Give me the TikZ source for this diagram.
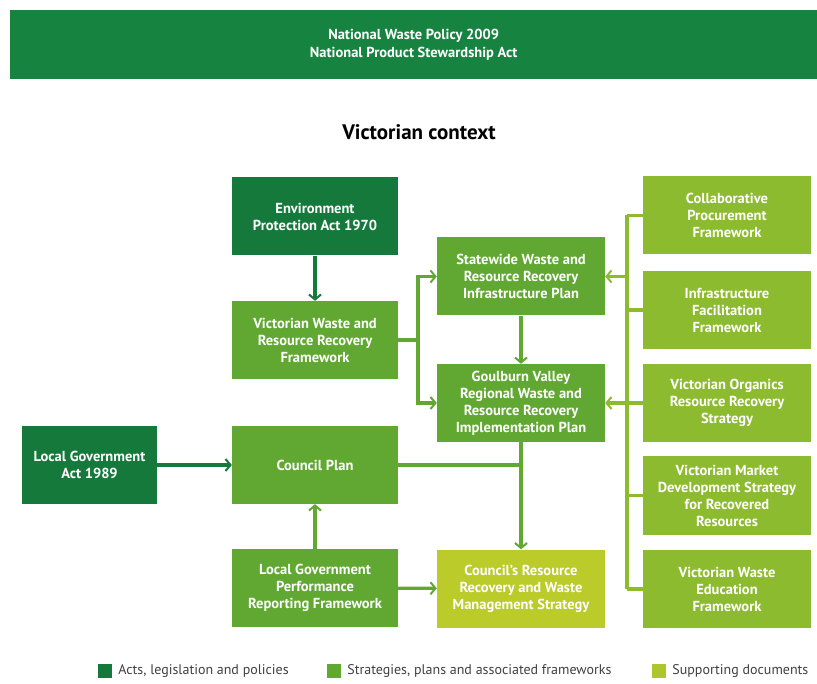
\documentclass[tikz,border=0pt]{standalone}
\usepackage{fontspec}
\setmainfont{PT Sans}
\usetikzlibrary{arrows.meta,positioning}
\definecolor{bannergrn}{RGB}{22,131,64}
\definecolor{darkgrn}{RGB}{22,121,60}
\definecolor{midgrn}{RGB}{96,168,50}
\definecolor{litgrn}{RGB}{141,187,47}
\definecolor{yelgrn}{RGB}{186,203,42}
\tikzset{
    box/.style={text=white, align=center, inner sep=2pt,
        font=\bfseries\fontsize{14.5}{17}\selectfont,
        minimum width=166pt, minimum height=78pt},
    acts/.style={box, fill=darkgrn},
    plan/.style={box, fill=midgrn},
    supp/.style={box, fill=litgrn, minimum width=168pt},
    link/.style={line width=3.2pt, -{Straight Barb[length=5pt,width=12pt,line width=2pt]}},
    bus/.style={line width=3.2pt},
    key/.style={minimum size=14pt, inner sep=0pt},
    keytext/.style={right=6pt of #1, font=\fontsize{14}{15}\selectfont, text=black!75, inner sep=0pt},
}
\begin{document}
\begin{tikzpicture}[x=1pt, y=-1pt]
    \useasboundingbox (0,0) rectangle (817,684);
    \node[fill=bannergrn, anchor=north west, minimum width=807pt, minimum height=69pt,
        text=white, align=center, font=\bfseries\fontsize{14.5}{18}\selectfont]
        (nwp) at (10,10) {National Waste Policy 2009\\National Product Stewardship Act};
    \node[font=\bfseries\fontsize{21}{24}\selectfont] (vic) at (419,132) {Victorian context};

    % left two columns
    \node[acts] (epa) at (315,216.5) {Environment\\Protection Act 1970};
    \node[plan] (vwrrf) at (315,340) {Victorian Waste and\\Resource Recovery\\Framework};
    \node[plan] (cplan) at (315,465) {Council Plan};
    \node[plan] (lgprf) at (315,588) {Local Government\\Performance\\Reporting Framework};
    \node[acts, minimum width=135pt] (lga) at (89.5,465) {Local Government\\Act 1989};

    % middle column
    \node[plan, minimum width=168pt] (swrrip) at (521,276.5) {Statewide Waste and\\Resource Recovery\\Infrastructure Plan};
    \node[plan, minimum width=168pt] (gvrwrrip) at (521,403) {Goulburn Valley\\Regional Waste and\\Resource Recovery\\Implementation Plan};
    \node[box, fill=yelgrn, minimum width=168pt] (crrwms) at (521,588.5) {Council's Resource\\Recovery and Waste\\Management Strategy};

    % supporting documents
    \node[supp] (collab) at (727,215.5) {Collaborative\\Procurement\\Framework};
    \node[supp] (infra) at (727,310) {Infrastructure\\Facilitation\\Framework};
    \node[supp] (organics) at (727,403) {Victorian Organics\\Resource Recovery\\Strategy};
    \node[supp] (market) at (727,495.5) {Victorian Market\\Development Strategy\\for Recovered\\Resources};
    \node[supp] (educ) at (727,589) {Victorian Waste\\Education\\Framework};

    \coordinate (lbus) at (418,0);
    \coordinate (rbus) at (627,0);

    \draw[link, darkgrn] (epa) -- (vwrrf);
    \draw[link, darkgrn] (lga) -- (cplan);
    \draw[link, midgrn] (vwrrf.east) -- (vwrrf.east -| lbus) |- (swrrip.west);
    \draw[link, midgrn] (vwrrf.east -| lbus) |- (gvrwrrip.west);
    \draw[link, midgrn] (swrrip) -- (gvrwrrip);
    \draw[bus, midgrn] (cplan.east) -- (cplan.east -| gvrwrrip.south);
    \draw[link, midgrn] (gvrwrrip) -- (crrwms);
    \draw[link, midgrn] (lgprf) -- (cplan);
    \draw[link, midgrn] (lgprf) -- (crrwms);

    \draw[bus, litgrn] (collab.west -| rbus) -- (educ.west -| rbus);
    \foreach \b in {collab,infra,organics,market,educ}
        {\draw[bus, litgrn] (\b.west) -- (\b.west -| rbus);}
    \draw[link, litgrn] (swrrip.east -| rbus) -- (swrrip.east);
    \draw[link, litgrn] (gvrwrrip.east -| rbus) -- (gvrwrrip.east);

    % legend
    \node[key, fill=darkgrn] (k1) at (105,671) {};
    \node[keytext=k1] (t1) {Acts, legislation and policies};
    \node[key, fill=midgrn] (k2) at (334,671) {};
    \node[keytext=k2] (t2) {Strategies, plans and associated frameworks};
    \node[key, fill=yelgrn!70!litgrn] (k3) at (659,671) {};
    \node[keytext=k3] (t3) {Supporting documents};
\end{tikzpicture}
\end{document}
